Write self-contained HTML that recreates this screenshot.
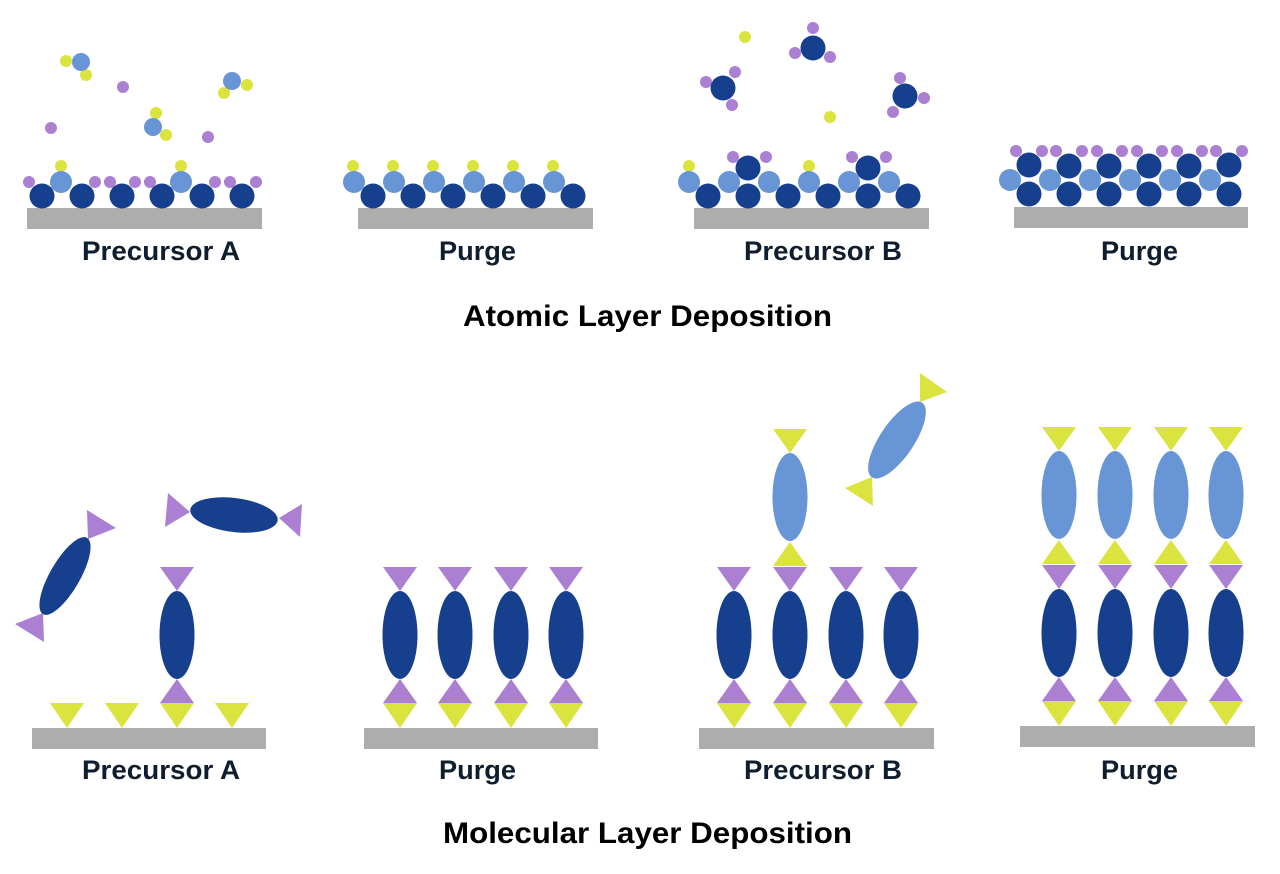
<!DOCTYPE html>
<html><head><meta charset="utf-8"><style>
html,body{margin:0;padding:0;background:#fff}
svg{display:block}
.l{font-family:"Liberation Sans",sans-serif;font-weight:bold;font-size:27px;fill:#0f1e2e}
.t{font-family:"Liberation Sans",sans-serif;font-weight:bold;font-size:30px;fill:#000}
</style></head><body>
<svg width="1280" height="874" viewBox="0 0 1280 874" xmlns="http://www.w3.org/2000/svg">
<defs>
<g id="col">
<polygon points="-17,703 17,703 0,728" fill="#dbe33e"/>
<polygon points="-17,703 17,703 0,679" fill="#ab7fd1"/>
<ellipse cx="0" cy="635" rx="17.5" ry="44" fill="#163f8e"/>
<polygon points="-17,567 17,567 0,591" fill="#ab7fd1"/>
</g>
<g id="top">
<polygon points="-17,566 17,566 0,542" fill="#dbe33e"/>
<ellipse cx="0" cy="497" rx="17.5" ry="44" fill="#6895d6"/>
<polygon points="-17,429 17,429 0,453" fill="#dbe33e"/>
</g>
<polygon id="ydn" points="-17,703 17,703 0,728" fill="#dbe33e"/>
</defs>

<!-- ===== ALD ===== -->
<g>
<!-- panel 1 -->
<rect x="27" y="208" width="235" height="21" fill="#adadad"/>
<g fill="#ab7fd1">
<circle cx="29" cy="182" r="6"/><circle cx="95" cy="182" r="6"/><circle cx="110" cy="182" r="6"/><circle cx="135" cy="182" r="6"/><circle cx="150" cy="182" r="6"/><circle cx="215" cy="182" r="6"/><circle cx="230" cy="182" r="6"/><circle cx="256" cy="182" r="6"/>
<circle cx="123" cy="87" r="6"/><circle cx="51" cy="128" r="6"/><circle cx="208" cy="137" r="6"/>
</g>
<g fill="#dbe33e">
<circle cx="61" cy="166" r="6"/><circle cx="181" cy="166" r="6"/>
<circle cx="66" cy="61" r="6"/><circle cx="86" cy="75" r="6"/>
<circle cx="247" cy="85" r="6"/><circle cx="224" cy="93" r="6"/>
<circle cx="156" cy="113" r="6"/><circle cx="166" cy="135" r="6"/>
</g>
<g fill="#6895d6">
<circle cx="61" cy="182" r="11"/><circle cx="181" cy="182" r="11"/>
<circle cx="81" cy="62" r="9"/><circle cx="232" cy="81" r="9"/><circle cx="153" cy="127" r="9"/>
</g>
<g fill="#163f8e">
<circle cx="42" cy="196" r="12.5"/><circle cx="82" cy="196" r="12.5"/><circle cx="122" cy="196" r="12.5"/><circle cx="162" cy="196" r="12.5"/><circle cx="202" cy="196" r="12.5"/><circle cx="242" cy="196" r="12.5"/>
</g>

<!-- panel 2 -->
<rect x="358" y="208" width="235" height="21" fill="#adadad"/>
<g fill="#dbe33e">
<circle cx="353" cy="166" r="6"/><circle cx="393" cy="166" r="6"/><circle cx="433" cy="166" r="6"/><circle cx="473" cy="166" r="6"/><circle cx="513" cy="166" r="6"/><circle cx="553" cy="166" r="6"/>
</g>
<g fill="#6895d6">
<circle cx="354" cy="182" r="11"/><circle cx="394" cy="182" r="11"/><circle cx="434" cy="182" r="11"/><circle cx="474" cy="182" r="11"/><circle cx="514" cy="182" r="11"/><circle cx="554" cy="182" r="11"/>
</g>
<g fill="#163f8e">
<circle cx="373" cy="196" r="12.5"/><circle cx="413" cy="196" r="12.5"/><circle cx="453" cy="196" r="12.5"/><circle cx="493" cy="196" r="12.5"/><circle cx="533" cy="196" r="12.5"/><circle cx="573" cy="196" r="12.5"/>
</g>

<!-- panel 3 -->
<rect x="694" y="208" width="235" height="21" fill="#adadad"/>
<g fill="#ab7fd1">
<circle cx="733" cy="157" r="6"/><circle cx="766" cy="157" r="6"/><circle cx="852" cy="157" r="6"/><circle cx="886" cy="157" r="6"/>
<circle cx="735" cy="72" r="6"/><circle cx="706" cy="82" r="6"/><circle cx="732" cy="105" r="6"/>
<circle cx="813" cy="28" r="6"/><circle cx="795" cy="53" r="6"/><circle cx="830" cy="57" r="6"/>
<circle cx="900" cy="78" r="6"/><circle cx="924" cy="98" r="6"/><circle cx="893" cy="112" r="6"/>
</g>
<g fill="#dbe33e">
<circle cx="689" cy="166" r="6"/><circle cx="809" cy="166" r="6"/>
<circle cx="745" cy="37" r="6"/><circle cx="830" cy="117" r="6"/>
</g>
<g fill="#6895d6">
<circle cx="689" cy="182" r="11"/><circle cx="729" cy="182" r="11"/><circle cx="769" cy="182" r="11"/><circle cx="809" cy="182" r="11"/><circle cx="849" cy="182" r="11"/><circle cx="889" cy="182" r="11"/>
</g>
<g fill="#163f8e">
<circle cx="708" cy="196" r="12.5"/><circle cx="748" cy="196" r="12.5"/><circle cx="788" cy="196" r="12.5"/><circle cx="828" cy="196" r="12.5"/><circle cx="868" cy="196" r="12.5"/><circle cx="908" cy="196" r="12.5"/>
<circle cx="748" cy="168" r="12.5"/><circle cx="868" cy="168" r="12.5"/>
<circle cx="723" cy="88" r="12.5"/><circle cx="813" cy="48" r="12.5"/><circle cx="905" cy="96" r="12.5"/>
</g>

<!-- panel 4 -->
<rect x="1014" y="207" width="234" height="21" fill="#adadad"/>
<g fill="#ab7fd1">
<circle cx="1016" cy="151" r="6"/><circle cx="1042" cy="151" r="6"/><circle cx="1056" cy="151" r="6"/><circle cx="1082" cy="151" r="6"/><circle cx="1097" cy="151" r="6"/><circle cx="1122" cy="151" r="6"/><circle cx="1137" cy="151" r="6"/><circle cx="1162" cy="151" r="6"/><circle cx="1177" cy="151" r="6"/><circle cx="1202" cy="151" r="6"/><circle cx="1216" cy="151" r="6"/><circle cx="1242" cy="151" r="6"/>
</g>
<g fill="#6895d6">
<circle cx="1010" cy="180" r="11"/><circle cx="1050" cy="180" r="11"/><circle cx="1090" cy="180" r="11"/><circle cx="1130" cy="180" r="11"/><circle cx="1170" cy="180" r="11"/><circle cx="1210" cy="180" r="11"/>
</g>
<g fill="#163f8e">
<circle cx="1029" cy="194" r="12.5"/><circle cx="1069" cy="194" r="12.5"/><circle cx="1109" cy="194" r="12.5"/><circle cx="1149" cy="194" r="12.5"/><circle cx="1189" cy="194" r="12.5"/><circle cx="1229" cy="194" r="12.5"/>
<circle cx="1029" cy="165" r="12.5"/><circle cx="1069" cy="166" r="12.5"/><circle cx="1109" cy="166" r="12.5"/><circle cx="1149" cy="166" r="12.5"/><circle cx="1189" cy="166" r="12.5"/><circle cx="1229" cy="165" r="12.5"/>
</g>

<text class="l" x="82" y="260" textLength="158" lengthAdjust="spacingAndGlyphs">Precursor A</text>
<text class="l" x="439" y="260" textLength="77" lengthAdjust="spacingAndGlyphs">Purge</text>
<text class="l" x="744" y="260" textLength="158" lengthAdjust="spacingAndGlyphs">Precursor B</text>
<text class="l" x="1101" y="260" textLength="77" lengthAdjust="spacingAndGlyphs">Purge</text>
<text class="t" x="463" y="326" textLength="369" lengthAdjust="spacingAndGlyphs">Atomic Layer Deposition</text>
</g>

<!-- ===== MLD ===== -->
<!-- panel 1 -->
<rect x="32" y="728" width="234" height="21" fill="#adadad"/>
<use href="#ydn" transform="translate(67,0)"/>
<use href="#ydn" transform="translate(122,0)"/>
<use href="#ydn" transform="translate(232,0)"/>
<use href="#col" transform="translate(177,0)"/>
<polygon points="87,510 116,528 88,539" fill="#ab7fd1"/>
<polygon points="43,613 15,624 44,642" fill="#ab7fd1"/>
<ellipse cx="65" cy="576" rx="15" ry="44" transform="rotate(30 65 576)" fill="#163f8e"/>
<polygon points="168,493 165,527 190,512" fill="#ab7fd1"/>
<polygon points="279,518 302,504 300,537" fill="#ab7fd1"/>
<ellipse cx="234" cy="515" rx="44" ry="17" transform="rotate(7 234 515)" fill="#163f8e"/>

<!-- panel 2 -->
<rect x="364" y="728" width="234" height="21" fill="#adadad"/>
<use href="#col" transform="translate(400,0)"/>
<use href="#col" transform="translate(455,0)"/>
<use href="#col" transform="translate(511,0)"/>
<use href="#col" transform="translate(566,0)"/>

<!-- panel 3 -->
<rect x="699" y="728" width="235" height="21" fill="#adadad"/>
<use href="#col" transform="translate(734,0)"/>
<use href="#col" transform="translate(790,0)"/>
<use href="#col" transform="translate(846,0)"/>
<use href="#col" transform="translate(901,0)"/>
<use href="#top" transform="translate(790,0)"/>
<polygon points="920,373 947,392 920,402" fill="#dbe33e"/>
<polygon points="872,477 845,488 873,506" fill="#dbe33e"/>
<ellipse cx="897" cy="440" rx="17" ry="45" transform="rotate(34 897 440)" fill="#6895d6"/>

<!-- panel 4 -->
<rect x="1020" y="726" width="235" height="21" fill="#adadad"/>
<use href="#col" transform="translate(1059,-2)"/>
<use href="#col" transform="translate(1115,-2)"/>
<use href="#col" transform="translate(1171,-2)"/>
<use href="#col" transform="translate(1226,-2)"/>
<use href="#top" transform="translate(1059,-2)"/>
<use href="#top" transform="translate(1115,-2)"/>
<use href="#top" transform="translate(1171,-2)"/>
<use href="#top" transform="translate(1226,-2)"/>

<text class="l" x="82" y="779" textLength="158" lengthAdjust="spacingAndGlyphs">Precursor A</text>
<text class="l" x="439" y="779" textLength="77" lengthAdjust="spacingAndGlyphs">Purge</text>
<text class="l" x="744" y="779" textLength="158" lengthAdjust="spacingAndGlyphs">Precursor B</text>
<text class="l" x="1101" y="779" textLength="77" lengthAdjust="spacingAndGlyphs">Purge</text>
<text class="t" x="443" y="843" textLength="409" lengthAdjust="spacingAndGlyphs">Molecular Layer Deposition</text>
</svg>
</body></html>
